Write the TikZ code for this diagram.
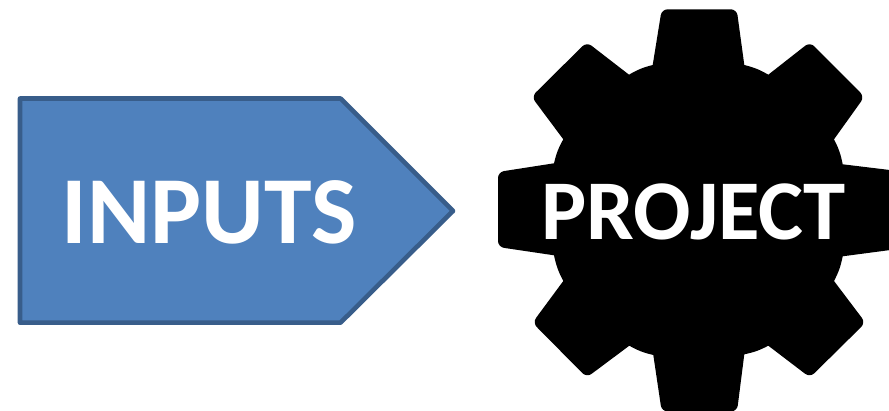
\documentclass[tikz,border=0pt]{standalone}
\usepackage{fontspec}
\setmainfont{Carlito}
\definecolor{arrowfill}{HTML}{4F81BD}
\definecolor{arrowline}{HTML}{385D8A}
\tikzset{
  inputshape/.style={fill=arrowfill,draw=arrowline,line width=4.6pt,line join=round},
  gearshape/.style={fill=black,draw=none},
  biglabel/.style={text=white,inner sep=0pt,anchor=base}
}
\begin{document}
\begin{tikzpicture}[x=1pt,y=-1pt]
\useasboundingbox (0,0) rectangle (889,411);
\clip (0,0) rectangle (889,411);
\fill[white] (0,0) rectangle (889,411);
\draw[inputshape] (20,98.5) -- (340.5,98.5) -- (453,211) -- (340.5,322.7) -- (20,322.7) -- cycle;
\path[gearshape]
  (652.7,65) [rounded corners=6pt] -- (661.7,9.3) -- (736.7,9.3) [sharp corners] -- (744.3,65)
  to[bend left=8] (768.3,74.7)
  [rounded corners=6pt] -- (810,42) -- (864.5,96.7) [sharp corners] -- (834,139.3)
  to[bend left=8] (842.7,164.3)
  [rounded corners=6pt] -- (898,171) -- (898,249) [sharp corners] -- (842.7,256.3)
  to[bend left=8] (834,281)
  [rounded corners=6pt] -- (865.5,322.7) -- (810,377.5) [sharp corners] -- (768.3,345.7)
  to[bend left=8] (744.3,354.3)
  [rounded corners=6pt] -- (737,411.5) -- (661.7,411.5) [sharp corners] -- (653.3,355)
  to[bend left=8] (629.3,345.7)
  [rounded corners=6pt] -- (586.7,377.5) -- (532.5,322.7) [sharp corners] -- (563.3,281)
  to[bend left=8] (554,255.3)
  [rounded corners=6pt] -- (498,247) -- (498,172) [sharp corners] -- (554,163.3)
  to[bend left=8] (563.3,139.3)
  [rounded corners=6pt] -- (531.5,96.7) -- (586.7,42) [sharp corners] -- (629,74.7)
  to[bend left=8] cycle;
\node[biglabel,font=\bfseries\fontsize{96}{96}\selectfont] (inputs) at (209.5,243.3) {INPUTS};
\node[biglabel,font=\bfseries\fontsize{85}{85}\selectfont] (project) at (693.5,239.5) {PROJECT};
\end{tikzpicture}
\end{document}
